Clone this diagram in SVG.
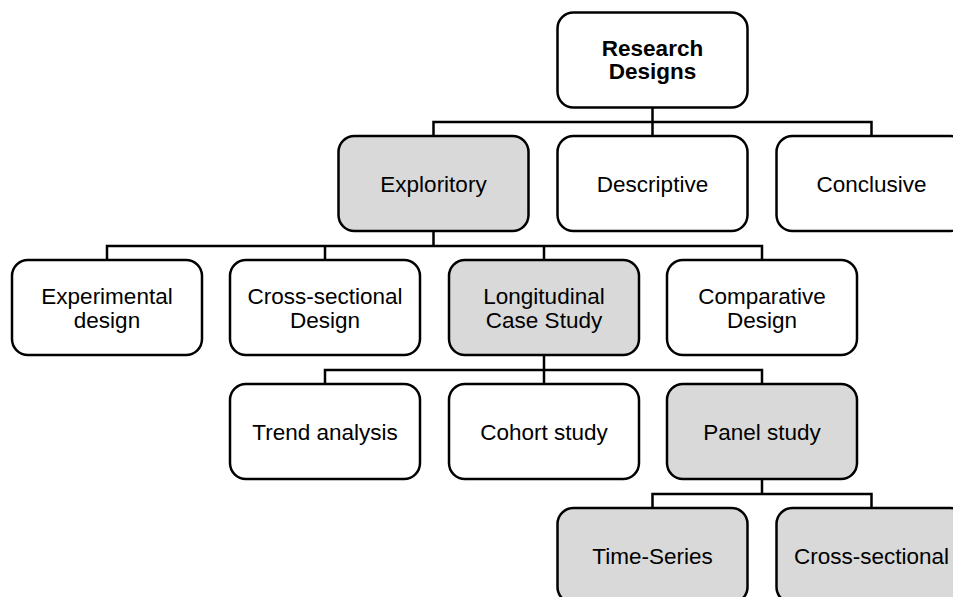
<svg xmlns="http://www.w3.org/2000/svg" width="953" height="597" viewBox="0 0 953 597">
  <style>
    .box { fill: #ffffff; stroke: #000000; stroke-width: 2.5; }
    .hl { fill: #d9d9d9; }
    .wire { fill: none; stroke: #000000; stroke-width: 2.5; stroke-linecap: square; }
    text { font-family: "Liberation Sans", Arial, Helvetica, sans-serif; font-size: 22.5px; fill: #000000; text-anchor: middle; }
    .bold { font-weight: bold; }
  </style>
  <rect width="953" height="597" fill="#ffffff"/>

  <!-- connectors -->
  <g id="connectors">
    <path class="wire" d="M652.5 107 V122 M433.5 122 H871.5 M433.5 122 V136 M652.5 122 V136 M871.5 122 V136"/>
    <path class="wire" d="M433.5 231 V246 M107 246 H762 M107 246 V260 M325 246 V260 M544 246 V260 M762 246 V260"/>
    <path class="wire" d="M544 355 V370 M325 370 H762 M325 370 V384 M544 370 V384 M762 370 V384"/>
    <path class="wire" d="M762 479 V494 M652.5 494 H871.5 M652.5 494 V508 M871.5 494 V508"/>
  </g>

  <!-- root -->
  <g id="research-designs">
    <rect class="box" x="557.5" y="12.5" width="190" height="95" rx="16"/>
    <text class="bold" x="652.5" y="55.5">Research</text>
    <text class="bold" x="652.5" y="79">Designs</text>
  </g>

  <!-- level 1 -->
  <g id="exploritory">
    <rect class="box hl" x="338.5" y="136" width="190" height="95" rx="16"/>
    <text x="433.5" y="191.5">Exploritory</text>
  </g>
  <g id="descriptive">
    <rect class="box" x="557.5" y="136" width="190" height="95" rx="16"/>
    <text x="652.5" y="191.5">Descriptive</text>
  </g>
  <g id="conclusive">
    <rect class="box" x="776.5" y="136" width="190" height="95" rx="16"/>
    <text x="871.5" y="191.5">Conclusive</text>
  </g>

  <!-- level 2 -->
  <g id="experimental-design">
    <rect class="box" x="12" y="260" width="190" height="95" rx="16"/>
    <text x="107" y="303.5">Experimental</text>
    <text x="107" y="327.5">design</text>
  </g>
  <g id="cross-sectional-design">
    <rect class="box" x="230" y="260" width="190" height="95" rx="16"/>
    <text x="325" y="303.5">Cross-sectional</text>
    <text x="325" y="327.5">Design</text>
  </g>
  <g id="longitudinal-case-study">
    <rect class="box hl" x="449" y="260" width="190" height="95" rx="16"/>
    <text x="544" y="303.5">Longitudinal</text>
    <text x="544" y="327.5">Case Study</text>
  </g>
  <g id="comparative-design">
    <rect class="box" x="667" y="260" width="190" height="95" rx="16"/>
    <text x="762" y="303.5">Comparative</text>
    <text x="762" y="327.5">Design</text>
  </g>

  <!-- level 3 -->
  <g id="trend-analysis">
    <rect class="box" x="230" y="384" width="190" height="95" rx="16"/>
    <text x="325" y="439.5">Trend analysis</text>
  </g>
  <g id="cohort-study">
    <rect class="box" x="449" y="384" width="190" height="95" rx="16"/>
    <text x="544" y="439.5">Cohort study</text>
  </g>
  <g id="panel-study">
    <rect class="box hl" x="667" y="384" width="190" height="95" rx="16"/>
    <text x="762" y="439.5">Panel study</text>
  </g>

  <!-- level 4 -->
  <g id="time-series">
    <rect class="box hl" x="557.5" y="508" width="190" height="95" rx="16"/>
    <text x="652.5" y="563.5">Time-Series</text>
  </g>
  <g id="cross-sectional">
    <rect class="box hl" x="776.5" y="508" width="190" height="95" rx="16"/>
    <text x="871.5" y="563.5">Cross-sectional</text>
  </g>
</svg>
